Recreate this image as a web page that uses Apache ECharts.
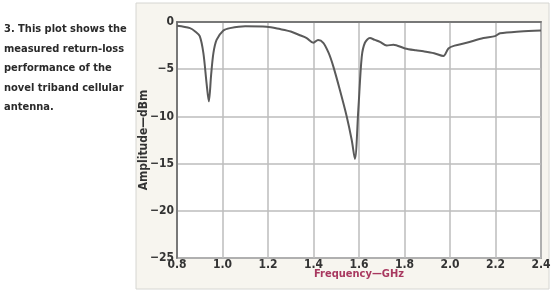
<!DOCTYPE html>
<html><head><meta charset="utf-8">
<script src="https://cdn.jsdelivr.net/npm/echarts@6/dist/echarts.min.js"></script>
<style>html,body{margin:0;padding:0;background:#fff}#c{width:554px;height:294px}</style>
</head><body><div id="c"></div>
<script>
var freqGHz = [0.80,0.857,0.88,0.90,0.916,0.93,0.94,0.95,0.96,0.974,1.004,1.033,1.1,1.194,1.253,1.3,1.34,1.37,1.40,1.42,1.443,1.467,1.487,1.516,1.546,1.568,1.582,1.597,1.612,1.626,1.648,1.67,1.692,1.722,1.751,1.802,1.85,1.883,1.93,1.971,1.993,2.02,2.073,2.147,2.198,2.22,2.308,2.4];
var amplitudeDBm = [-0.4,-0.65,-1.0,-1.5,-3.3,-6.5,-8.4,-5.6,-3.3,-1.9,-0.9,-0.65,-0.45,-0.5,-0.75,-1.0,-1.4,-1.7,-2.2,-1.9,-2.2,-3.3,-4.7,-7.2,-10,-12.5,-14.5,-9.3,-3.7,-2.2,-1.7,-1.9,-2.1,-2.5,-2.4,-2.8,-3.0,-3.1,-3.3,-3.6,-2.8,-2.5,-2.2,-1.7,-1.5,-1.2,-1.0,-0.9];
var caption = ["3. This plot shows the","measured return-loss","performance of the","novel triband cellular","antenna."];
var xTitle = "Frequency\u2014GHz";
var yTitle = "Amplitude\u2014dBm";

var FONT = '"Liberation Sans Narrow","DejaVu Sans Condensed","Liberation Sans",sans-serif';
var CAPFONT = '"DejaVu Sans Condensed","Liberation Sans Narrow",sans-serif';
var chart = echarts.init(document.getElementById('c'), null, {renderer:'canvas'});
var pts = freqGHz.map(function(f,i){return [f, amplitudeDBm[i]];});
var captionEls = caption.map(function(t,i){
  return {type:'text', left:4, top:24+i*19.5, style:{text:t, fill:'#2a2a2a', font:'bold 11px '+CAPFONT}};
});
chart.setOption({
  animation:false,
  backgroundColor:'#fff',
  graphic:[{type:'rect', shape:{x:136,y:3,width:413,height:286}, style:{fill:'#f7f5ef', stroke:'#d6d6d2', lineWidth:1}, z:-10}].concat(captionEls),
  grid:{left:177, right:13, top:22, bottom:36, show:true, backgroundColor:'#fff', borderColor:'#666', borderWidth:1.5},
  xAxis:{type:'value', min:0.8, max:2.4, interval:0.2,
    name:xTitle, nameLocation:'middle', nameGap:11, nameMoveOverlap:false,
    nameTextStyle:{color:'#a8385f', fontFamily:FONT, fontSize:11, fontWeight:'bold'},
    axisLine:{show:true, lineStyle:{color:'#666', width:1.5}}, axisTick:{show:false},
    axisLabel:{color:'#333', fontFamily:FONT, fontSize:12, fontWeight:'bold', margin:1, formatter:function(v){return v.toFixed(1);}},
    splitLine:{show:true, lineStyle:{color:'#bdbdbd', width:1.5}}},
  yAxis:{type:'value', min:-25, max:0, interval:5,
    name:yTitle, nameLocation:'middle', nameGap:27, nameRotate:90, nameMoveOverlap:false,
    nameTextStyle:{color:'#333', fontFamily:FONT, fontSize:12, fontWeight:'bold'},
    axisLine:{show:true, lineStyle:{color:'#666', width:1.5}}, axisTick:{show:false},
    axisLabel:{color:'#333', fontFamily:FONT, fontSize:12, fontWeight:'bold', margin:3, formatter:function(v){return v<0?'\u2212'+Math.abs(v):String(v);}},
    splitLine:{show:true, lineStyle:{color:'#bdbdbd', width:1.5}}},
  series:[{type:'line', data:pts, smooth:0.3, showSymbol:false, lineStyle:{color:'#5a5a5a', width:2}}]
});
</script></body></html>
